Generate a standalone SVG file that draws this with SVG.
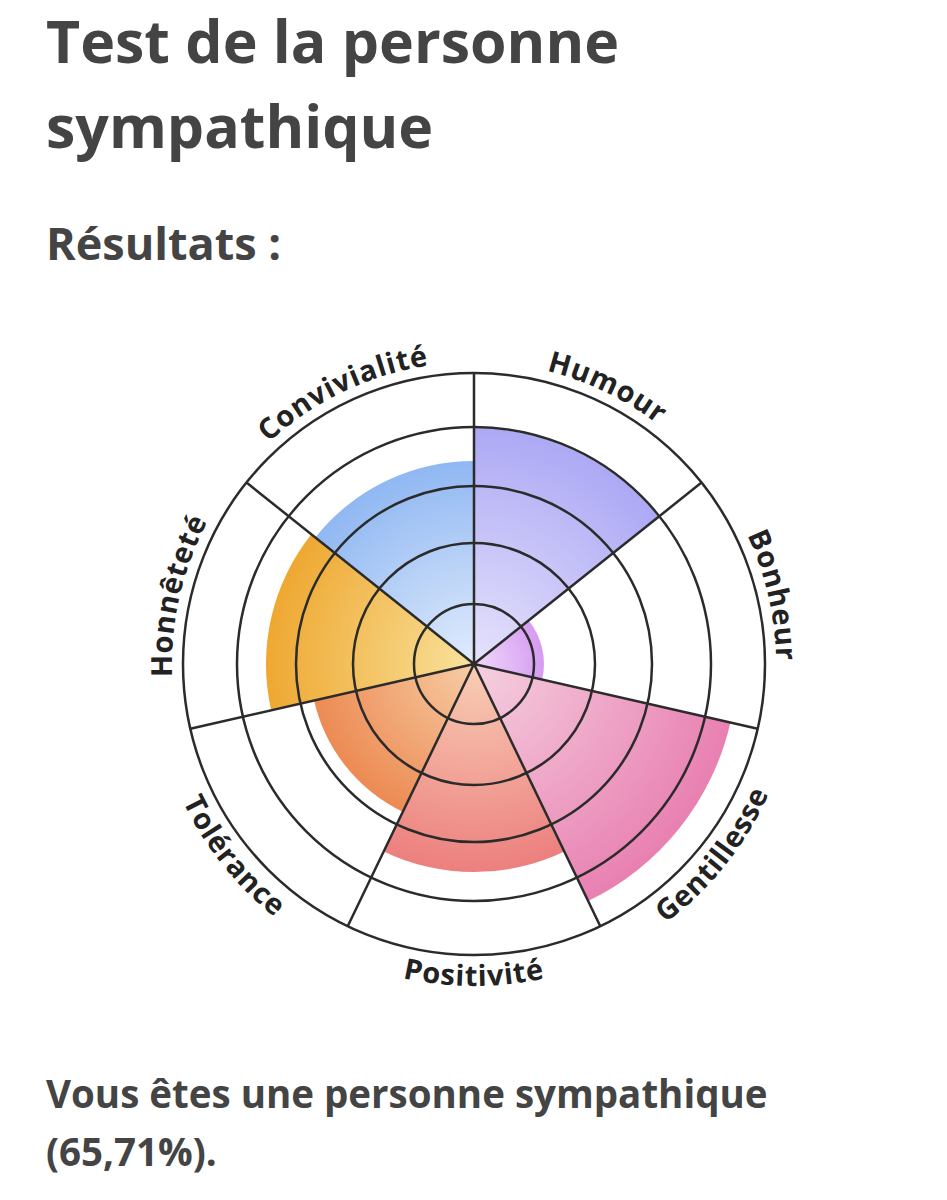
<svg xmlns="http://www.w3.org/2000/svg" xmlns:xlink="http://www.w3.org/1999/xlink" width="947" height="1200" viewBox="0 0 947 1200">
<style>
.t{font-family:"Open Sans","Liberation Sans",sans-serif;font-weight:bold;fill:#444}
.lab{font-family:"Open Sans","Liberation Sans",sans-serif;font-weight:bold;font-size:29px;fill:#222;letter-spacing:0.8px}
.ln{fill:none;stroke:#2b2b2b;stroke-width:2.5}
</style>
<defs>
<radialGradient id="gH" gradientUnits="userSpaceOnUse" cx="474" cy="664" r="260"><stop offset="0" stop-color="#e6e3fc"/><stop offset="1" stop-color="#a7a3f4"/></radialGradient>
<radialGradient id="gB" gradientUnits="userSpaceOnUse" cx="474" cy="664" r="75"><stop offset="0" stop-color="#efd9fb"/><stop offset="1" stop-color="#d497f0"/></radialGradient>
<radialGradient id="gG" gradientUnits="userSpaceOnUse" cx="474" cy="664" r="270"><stop offset="0" stop-color="#f5d0e0"/><stop offset="1" stop-color="#e87eb0"/></radialGradient>
<radialGradient id="gP" gradientUnits="userSpaceOnUse" cx="474" cy="664" r="215"><stop offset="0" stop-color="#f8cfb5"/><stop offset="1" stop-color="#ec7d7d"/></radialGradient>
<radialGradient id="gT" gradientUnits="userSpaceOnUse" cx="474" cy="664" r="170"><stop offset="0" stop-color="#f7cda5"/><stop offset="1" stop-color="#ec8850"/></radialGradient>
<radialGradient id="gN" gradientUnits="userSpaceOnUse" cx="474" cy="664" r="215"><stop offset="0" stop-color="#f9e29c"/><stop offset="1" stop-color="#eea62e"/></radialGradient>
<radialGradient id="gC" gradientUnits="userSpaceOnUse" cx="474" cy="664" r="210"><stop offset="0" stop-color="#e2ecfc"/><stop offset="1" stop-color="#8db6f2"/></radialGradient>
<path id="pConv" d="M172.9,641.4 A302,302 0 0 1 644.2,414.5"/>
<path id="pHum" d="M303.8,414.5 A302,302 0 0 1 775.1,641.4"/>
<path id="pBon" d="M562.8,375.3 A302,302 0 0 1 679.6,885.2"/>
<path id="pHon" d="M268.4,885.2 A302,302 0 0 1 385.2,375.3"/>
<path id="pPos" d="M195.1,825 A322,322 0 0 0 752.9,825"/>
<path id="pGen" d="M425.9,982.4 A322,322 0 0 0 773.8,546.5"/>
<path id="pTol" d="M174.2,546.5 A322,322 0 0 0 522.1,982.4"/>
</defs>
<rect width="947" height="1200" fill="#fff"/>
<g id="title">
<text class="t" x="46" y="63" font-size="59">Test de la personne</text>
<text class="t" x="46" y="148" font-size="59">sympathique</text>
<text class="t" x="46" y="260" font-size="45">Résultats :</text>
</g>
<g id="wedges">
<path id="w-humour" d="M474,664 L474,428 A236,236 0 0 1 658.5,516.9 Z" fill="url(#gH)"/>
<path id="w-bonheur" d="M474,664 L528.7,620.4 A70,70 0 0 1 542.2,679.6 Z" fill="url(#gB)"/>
<path id="w-gentillesse" d="M474,664 L730.4,722.5 A263,263 0 0 1 588.1,901 Z" fill="url(#gG)"/>
<path id="w-positivite" d="M474,664 L564.3,851.4 A208,208 0 0 1 383.7,851.4 Z" fill="url(#gP)"/>
<path id="w-tolerance" d="M474,664 L402.8,811.8 A164,164 0 0 1 314.1,700.5 Z" fill="url(#gT)"/>
<path id="w-honnetete" d="M474,664 L271.2,710.3 A208,208 0 0 1 311.4,534.3 Z" fill="url(#gN)"/>
<path id="w-convivialite" d="M474,664 L315.3,537.4 A203,203 0 0 1 474,461 Z" fill="url(#gC)"/>
</g>
<g id="connectors">
<circle class="ln" cx="474" cy="664" r="60"/>
<circle class="ln" cx="474" cy="664" r="121"/>
<circle class="ln" cx="474" cy="664" r="178"/>
<circle class="ln" cx="474" cy="664" r="237"/>
<circle class="ln" cx="474" cy="664" r="291"/>
<path class="ln" d="M474,664 L474,373 M474,664 L701.5,482.6 M474,664 L757.7,728.7 M474,664 L600.3,926.2 M474,664 L347.7,926.2 M474,664 L190.3,728.7 M474,664 L246.5,482.6"/>
</g>
<g id="labels">
<text class="lab"><textPath xlink:href="#pConv" startOffset="50%" text-anchor="middle">Convivialité</textPath></text>
<text class="lab"><textPath xlink:href="#pHum" startOffset="50%" text-anchor="middle">Humour</textPath></text>
<text class="lab"><textPath xlink:href="#pBon" startOffset="50%" text-anchor="middle">Bonheur</textPath></text>
<text class="lab"><textPath xlink:href="#pHon" startOffset="50%" text-anchor="middle">Honnêteté</textPath></text>
<text class="lab"><textPath xlink:href="#pPos" startOffset="50%" text-anchor="middle">Positivité</textPath></text>
<text class="lab"><textPath xlink:href="#pGen" startOffset="50%" text-anchor="middle">Gentillesse</textPath></text>
<text class="lab"><textPath xlink:href="#pTol" startOffset="50%" text-anchor="middle">Tolérance</textPath></text>
</g>
<g id="result">
<text class="t" x="46" y="1108" font-size="38.5">Vous êtes une personne sympathique</text>
<text class="t" x="46" y="1166" font-size="38.5">(65,71%).</text>
</g>
</svg>
